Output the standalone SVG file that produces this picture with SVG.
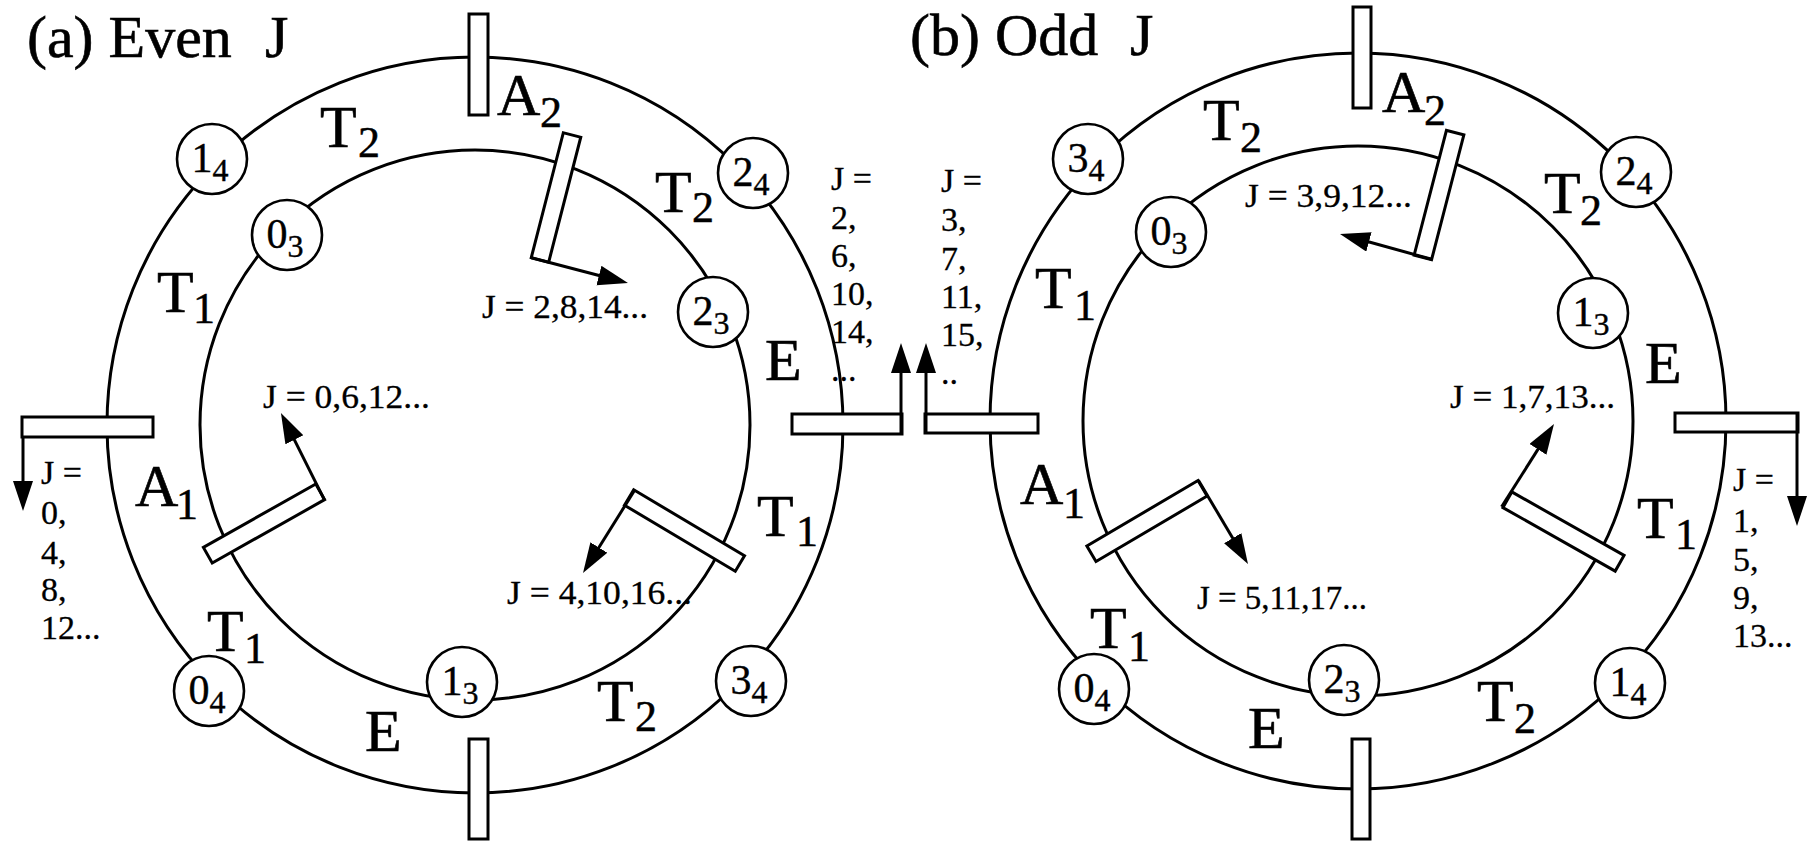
<svg xmlns="http://www.w3.org/2000/svg" width="1817" height="852" viewBox="0 0 1817 852">
<style>
  .ring { fill: none; stroke: #000; stroke-width: 3; }
  .bar { fill: #fff; stroke: #000; stroke-width: 3; }
  .node { fill: #fff; stroke: #000; stroke-width: 2.6; }
  .lbl { font-family: "Liberation Serif", "Times New Roman", serif; font-size: 60px; fill: #000; stroke: #000; stroke-width: 0.6; }
  .sub { font-family: "Liberation Serif", "Times New Roman", serif; font-size: 44px; fill: #000; stroke: #000; stroke-width: 0.5; }
  .nl { font-family: "Liberation Serif", "Times New Roman", serif; font-size: 42px; fill: #000; text-anchor: middle; stroke: #000; stroke-width: 0.4; }
  .ns { font-size: 32px; }
  .jl { font-family: "Liberation Serif", "Times New Roman", serif; font-size: 34px; fill: #000; stroke: #000; stroke-width: 0.3; }
  .arr { fill: none; stroke: #000; stroke-width: 3; marker-end: url(#ah); }
</style>
<defs>
  <marker id="ah" markerUnits="userSpaceOnUse" markerWidth="32" markerHeight="22" refX="10" refY="10" orient="auto">
    <path d="M0,0 L30,10 L0,20 z" fill="#000"/>
  </marker>
</defs>
<rect width="1817" height="852" fill="#fff"/>

<!-- Panel (a) -->
<g id="panel-a">
  <circle id="a-outer" class="ring" cx="475" cy="425" r="368"/>
  <circle id="a-inner" class="ring" cx="475" cy="425" r="275"/>
  <g id="a-bars">
    <rect class="bar" x="469" y="14" width="19" height="101"/>
    <rect class="bar" x="469" y="739" width="19" height="100"/>
    <rect class="bar" x="22" y="417" width="131" height="20"/>
    <rect class="bar" x="792" y="414" width="110" height="20"/>
    <rect class="bar" x="-64.5" y="-9" width="129" height="18" transform="translate(556,197.5) rotate(104.4)"/>
    <rect class="bar" x="-64.5" y="-9" width="129" height="18" transform="translate(264,523.5) rotate(-29.4)"/>
    <rect class="bar" x="-64.5" y="-9" width="129" height="18" transform="translate(684.5,530.5) rotate(30.8)"/>
  </g>
  <g id="a-n14"><circle class="node" cx="212" cy="159" r="35"/><text class="nl" x="210" y="172">1<tspan class="ns" dy="9">4</tspan></text></g>
  <g id="a-n03"><circle class="node" cx="287" cy="235" r="35"/><text class="nl" x="285" y="248">0<tspan class="ns" dy="9">3</tspan></text></g>
  <g id="a-n24"><circle class="node" cx="753" cy="173" r="35"/><text class="nl" x="751" y="186">2<tspan class="ns" dy="9">4</tspan></text></g>
  <g id="a-n23"><circle class="node" cx="713" cy="312" r="35"/><text class="nl" x="711" y="325">2<tspan class="ns" dy="9">3</tspan></text></g>
  <g id="a-n04"><circle class="node" cx="209" cy="691" r="35"/><text class="nl" x="207" y="704">0<tspan class="ns" dy="9">4</tspan></text></g>
  <g id="a-n13"><circle class="node" cx="462" cy="682" r="35"/><text class="nl" x="460" y="695">1<tspan class="ns" dy="9">3</tspan></text></g>
  <g id="a-n34"><circle class="node" cx="751" cy="681" r="35"/><text class="nl" x="749" y="694">3<tspan class="ns" dy="9">4</tspan></text></g>
</g>

<!-- Panel (b) -->
<g id="panel-b">
  <circle id="b-outer" class="ring" cx="1358" cy="421" r="368"/>
  <circle id="b-inner" class="ring" cx="1358" cy="421" r="275"/>
  <g id="b-bars">
    <rect class="bar" x="1353" y="7" width="18" height="101"/>
    <rect class="bar" x="1352" y="739" width="18" height="100"/>
    <rect class="bar" x="925" y="414" width="113" height="19"/>
    <rect class="bar" x="1675" y="413" width="123" height="19"/>
    <rect class="bar" x="-64.5" y="-9" width="129" height="18" transform="translate(1439,195) rotate(104.5)"/>
    <rect class="bar" x="-64.5" y="-9" width="129" height="18" transform="translate(1147,521) rotate(-30.5)"/>
    <rect class="bar" x="-64.5" y="-9" width="129" height="18" transform="translate(1563.5,531.5) rotate(29.5)"/>
  </g>
  <g id="b-n34"><circle class="node" cx="1088" cy="159" r="35"/><text class="nl" x="1086" y="172">3<tspan class="ns" dy="9">4</tspan></text></g>
  <g id="b-n03"><circle class="node" cx="1171" cy="232" r="35"/><text class="nl" x="1169" y="245">0<tspan class="ns" dy="9">3</tspan></text></g>
  <g id="b-n24"><circle class="node" cx="1636" cy="172" r="35"/><text class="nl" x="1634" y="185">2<tspan class="ns" dy="9">4</tspan></text></g>
  <g id="b-n13"><circle class="node" cx="1593" cy="313" r="35"/><text class="nl" x="1591" y="326">1<tspan class="ns" dy="9">3</tspan></text></g>
  <g id="b-n04"><circle class="node" cx="1094" cy="689" r="35"/><text class="nl" x="1092" y="702">0<tspan class="ns" dy="9">4</tspan></text></g>
  <g id="b-n23"><circle class="node" cx="1344" cy="680" r="35"/><text class="nl" x="1342" y="693">2<tspan class="ns" dy="9">3</tspan></text></g>
  <g id="b-n14"><circle class="node" cx="1630" cy="683" r="35"/><text class="nl" x="1628" y="696">1<tspan class="ns" dy="9">4</tspan></text></g>
</g>

<!-- Connectors (arrows) -->
<g id="connectors">
  <path class="arr" d="M531.3,257.8 L608.6,278"/>
  <path class="arr" d="M324.4,499.8 L289.9,430.9"/>
  <path class="arr" d="M634.6,490.3 L593.6,556"/>
  <path class="arr" d="M23,437 L23,491"/>
  <path class="arr" d="M901,434 L901,363"/>
  <path class="arr" d="M926,433 L926,363"/>
  <path class="arr" d="M1797,413 L1797,506"/>
  <path class="arr" d="M1431.7,259.3 L1359.3,239.3"/>
  <path class="arr" d="M1198.4,480.2 L1237.8,546.8"/>
  <path class="arr" d="M1501.6,506.8 L1543.3,440.9"/>
</g>

<!-- Labels -->
<g id="labels-a">
  <text class="lbl" x="27" y="57">(a) Even</text>
  <text class="lbl" x="265" y="57">J</text>
  <text class="lbl" x="320" y="147">T</text><text class="sub" x="358" y="157">2</text>
  <text class="lbl" x="497" y="115">A</text><text class="sub" x="540" y="127">2</text>
  <text class="lbl" x="655" y="212">T</text><text class="sub" x="692" y="222">2</text>
  <text class="lbl" x="157" y="312">T</text><text class="sub" x="193" y="323">1</text>
  <text class="lbl" x="765" y="380">E</text>
  <text class="lbl" x="135" y="506">A</text><text class="sub" x="176" y="519">1</text>
  <text class="lbl" x="757" y="536">T</text><text class="sub" x="796" y="546">1</text>
  <text class="lbl" x="207" y="651">T</text><text class="sub" x="244" y="663">1</text>
  <text class="lbl" x="365" y="751">E</text>
  <text class="lbl" x="597" y="721">T</text><text class="sub" x="635" y="731">2</text>
  <text class="jl" x="482" y="318" textLength="166" lengthAdjust="spacingAndGlyphs">J = 2,8,14...</text>
  <text class="jl" x="263" y="408" textLength="167" lengthAdjust="spacingAndGlyphs">J = 0,6,12...</text>
  <text class="jl" x="507" y="604" textLength="185" lengthAdjust="spacingAndGlyphs">J = 4,10,16...</text>
  <text class="jl" x="41" y="484">J =</text>
  <text class="jl" x="41" y="524">0,</text>
  <text class="jl" x="41" y="564">4,</text>
  <text class="jl" x="41" y="601">8,</text>
  <text class="jl" x="41" y="639">12...</text>
  <text class="jl" x="831" y="190">J =</text>
  <text class="jl" x="831" y="229">2,</text>
  <text class="jl" x="831" y="267">6,</text>
  <text class="jl" x="831" y="305">10,</text>
  <text class="jl" x="831" y="343">14,</text>
  <text class="jl" x="831" y="381">...</text>
</g>
<g id="labels-b">
  <text class="lbl" x="910" y="55">(b) Odd</text>
  <text class="lbl" x="1130" y="55">J</text>
  <text class="lbl" x="1203" y="140">T</text><text class="sub" x="1240" y="152">2</text>
  <text class="lbl" x="1382" y="112">A</text><text class="sub" x="1424" y="125">2</text>
  <text class="lbl" x="1544" y="213">T</text><text class="sub" x="1580" y="225">2</text>
  <text class="lbl" x="1035" y="308">T</text><text class="sub" x="1074" y="320">1</text>
  <text class="lbl" x="1645" y="383">E</text>
  <text class="lbl" x="1020" y="504">A</text><text class="sub" x="1063" y="518">1</text>
  <text class="lbl" x="1637" y="538">T</text><text class="sub" x="1675" y="549">1</text>
  <text class="lbl" x="1090" y="648">T</text><text class="sub" x="1128" y="661">1</text>
  <text class="lbl" x="1248" y="748">E</text>
  <text class="lbl" x="1477" y="721">T</text><text class="sub" x="1514" y="733">2</text>
  <text class="jl" x="1245" y="207" textLength="167" lengthAdjust="spacingAndGlyphs">J = 3,9,12...</text>
  <text class="jl" x="1450" y="408" textLength="165" lengthAdjust="spacingAndGlyphs">J = 1,7,13...</text>
  <text class="jl" x="1197" y="609" textLength="170" lengthAdjust="spacingAndGlyphs">J = 5,11,17...</text>
  <text class="jl" x="941" y="192">J =</text>
  <text class="jl" x="941" y="231">3,</text>
  <text class="jl" x="941" y="270">7,</text>
  <text class="jl" x="941" y="308">11,</text>
  <text class="jl" x="941" y="346">15,</text>
  <text class="jl" x="941" y="384">..</text>
  <text class="jl" x="1733" y="491">J =</text>
  <text class="jl" x="1733" y="532">1,</text>
  <text class="jl" x="1733" y="571">5,</text>
  <text class="jl" x="1733" y="609">9,</text>
  <text class="jl" x="1733" y="647">13...</text>
</g>
</svg>
